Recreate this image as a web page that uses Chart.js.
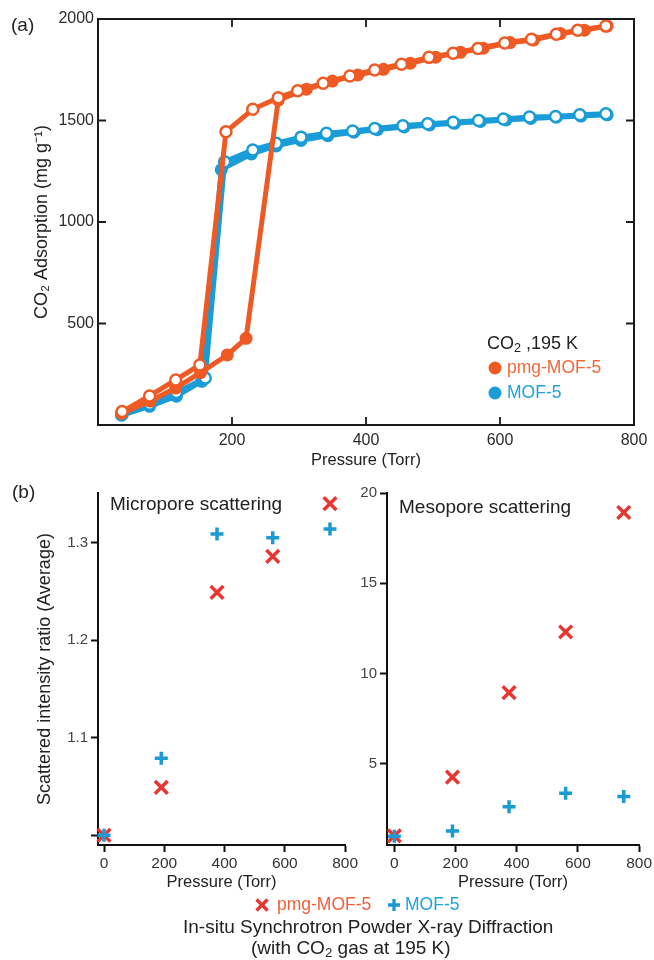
<!DOCTYPE html>
<html>
<head>
<meta charset="utf-8">
<script src="https://cdn.jsdelivr.net/npm/chart.js@4.4.1/dist/chart.umd.min.js"></script>
<style>
    body {
        margin: 0;
        width: 654px;
        height: 960px;
        position: relative;
        overflow: hidden;
        background: #fff;
        font-family: "Liberation Sans", Arial, sans-serif;
        color: #222;
    }
    canvas { position: absolute; }
    .txt {
        position: absolute;
        white-space: nowrap;
        line-height: 1;
        transform: translateY(-50%);
    }
    .dot {
        position: absolute;
        width: 13px;
        height: 13px;
        border-radius: 50%;
        transform: translate(-50%, -50%);
    }
    .icon { position: absolute; transform: translate(-50%, -50%); }
    sub { font-size: 0.7em; vertical-align: -0.25em; line-height: 0; }
</style>
</head>
<body>

<canvas id="chartA" width="654" height="475" style="left:0;top:0"></canvas>
<canvas id="chartMicro" width="360" height="420" style="left:0;top:480px"></canvas>
<canvas id="chartMeso" width="354" height="420" style="left:300px;top:480px"></canvas>

<div class="txt" style="left:11px;top:24px;font-size:19px">(a)</div>
<div class="txt" style="left:12px;top:491px;font-size:19px">(b)</div>

<div class="txt" style="left:487px;top:343px;font-size:18px">CO<sub>2</sub> ,195 K</div>
<div class="dot" style="left:495px;top:368px;background:#ef5a24"></div>
<div class="txt" style="left:507px;top:368px;font-size:17.5px;color:#f0693a">pmg-MOF-5</div>
<div class="dot" style="left:495px;top:393px;background:#1a9cd8"></div>
<div class="txt" style="left:507px;top:393px;font-size:17.5px;color:#1ea3dc">MOF-5</div>

<div class="txt" style="left:110px;top:503px;font-size:19px">Micropore scattering</div>
<div class="txt" style="left:399px;top:506px;font-size:19px">Mesopore scattering</div>

<svg class="icon" style="left:262px;top:905px" width="14" height="14" viewBox="0 0 14 14">
    <path d="M1.5 1.5 L12.5 12.5 M12.5 1.5 L1.5 12.5" stroke="#e8352f" stroke-width="3.3"/>
</svg>
<div class="txt" style="left:277px;top:905px;font-size:17.5px;color:#ef5f3a">pmg-MOF-5</div>
<svg class="icon" style="left:394px;top:905px" width="13" height="13" viewBox="0 0 13 13">
    <path d="M6.5 0.5 L6.5 12.5 M0.5 6.5 L12.5 6.5" stroke="#1b9ad3" stroke-width="3.3"/>
</svg>
<div class="txt" style="left:405px;top:905px;font-size:17.5px;color:#1ea3dc">MOF-5</div>
<div class="txt" style="left:183px;top:926px;font-size:19px">In-situ Synchrotron Powder X-ray Diffraction</div>
<div class="txt" style="left:251px;top:947px;font-size:19px">(with CO<sub>2</sub> gas at 195 K)</div>

<script>
// (a) CO2 isotherms at 195 K, pressure in Torr, uptake in mg/g
const pmgAdsP = [35, 78, 116, 153, 193, 221, 269, 311, 350, 388, 426, 466, 504, 541, 575, 615, 650, 690, 726, 760];
const pmgAdsQ = [57, 118, 182, 258, 345, 427, 1600, 1654, 1694, 1724, 1752, 1782, 1812, 1836, 1856, 1884, 1896, 1928, 1945, 1966];
const pmgDesP = [758, 716, 684, 647, 607, 567, 530, 494, 453, 413, 376, 336, 298, 269, 231, 191, 152, 116, 77, 36];
const pmgDesQ = [1965, 1945, 1925, 1900, 1882, 1855, 1831, 1811, 1777, 1749, 1719, 1683, 1647, 1612, 1555, 1445, 296, 222, 143, 66];

const mofAdsP = [35, 77, 117, 155, 184, 229, 266, 303, 343, 382, 417, 457, 495, 532, 571, 609, 646, 684, 721, 760];
const mofAdsQ = [48, 92, 142, 215, 1258, 1335, 1375, 1402, 1425, 1442, 1455, 1468, 1478, 1486, 1495, 1503, 1510, 1516, 1522, 1528];
const mofDesP = [758, 719, 683, 644, 605, 568, 530, 492, 455, 413, 380, 341, 303, 266, 231, 189, 160, 117, 77, 36];
const mofDesQ = [1533, 1528, 1520, 1517, 1507, 1500, 1491, 1484, 1474, 1461, 1448, 1437, 1418, 1388, 1355, 1297, 232, 160, 102, 52];

const xTicksA = [200, 400, 600, 800];
const yTicksA = [500, 1000, 1500, 2000];

// (b) scattered intensity ratio vs pressure
const pressureB = [0, 190, 375, 560, 750];
const microPmg = [1.0, 1.049, 1.249, 1.286, 1.340];
const microMof = [1.0, 1.079, 1.309, 1.305, 1.314];
const mesoPmg = [1.0, 4.26, 8.94, 12.3, 18.92];
const mesoMof = [0.98, 1.27, 2.62, 3.36, 3.18];

const xTicksB = [0, 200, 400, 600, 800];
const yTicksMicro = [1.0, 1.1, 1.2, 1.3];
const yTicksMeso = [5, 10, 15, 20];

const ORANGE = '#ef5a24';
const BLUE = '#1a9cd8';
const RED_X = '#e8352f';
const BLUE_PLUS = '#1b9ad3';

Chart.defaults.font.family = '"Liberation Sans", Arial, sans-serif';
Chart.defaults.color = '#222';

function toPoints(xs, ys) {
    return xs.map((x, i) => ({ x, y: ys[i] }));
}

function fixedTicks(values) {
    return (scale) => {
        scale.ticks = values.map((value) => ({ value }));
    };
}

// closed frame with ticks pointing inward, as in panel (a)
const innerFrame = {
    id: 'innerFrame',
    afterDatasetsDraw(chart) {
        const { ctx, chartArea: area, scales: { x, y } } = chart;
        ctx.save();
        ctx.strokeStyle = '#1a1a1a';
        ctx.lineWidth = 2;
        ctx.strokeRect(area.left, area.top, area.right - area.left, area.bottom - area.top);
        ctx.lineWidth = 1.8;
        ctx.beginPath();
        x.ticks.forEach((tick) => {
            const px = x.getPixelForValue(tick.value);
            ctx.moveTo(px, area.bottom);
            ctx.lineTo(px, area.bottom - 8);
            ctx.moveTo(px, area.top);
            ctx.lineTo(px, area.top + 8);
        });
        y.ticks.forEach((tick) => {
            const py = y.getPixelForValue(tick.value);
            ctx.moveTo(area.left, py);
            ctx.lineTo(area.left + 8, py);
            ctx.moveTo(area.right, py);
            ctx.lineTo(area.right - 8, py);
        });
        ctx.stroke();
        ctx.restore();
    }
};

function isothermSet(xs, ys, color, open, order) {
    return {
        data: toPoints(xs, ys),
        showLine: true,
        borderColor: color,
        borderWidth: 5,
        pointRadius: open ? 5.5 : 6.5,
        pointBorderWidth: open ? 2.5 : 0,
        pointBackgroundColor: open ? '#fff' : color,
        pointBorderColor: color,
        clip: false,
        order
    };
}

new Chart(document.getElementById('chartA'), {
    type: 'scatter',
    data: {
        datasets: [
            isothermSet(pmgDesP, pmgDesQ, ORANGE, true, 0),
            isothermSet(pmgAdsP, pmgAdsQ, ORANGE, false, 1),
            isothermSet(mofDesP, mofDesQ, BLUE, true, 2),
            isothermSet(mofAdsP, mofAdsQ, BLUE, false, 3)
        ]
    },
    options: {
        responsive: false,
        animation: false,
        layout: { padding: { top: 19, right: 20, left: 0, bottom: 0 } },
        plugins: { legend: { display: false }, tooltip: { enabled: false } },
        scales: {
            x: {
                type: 'linear',
                min: 0,
                max: 800,
                afterBuildTicks: fixedTicks(xTicksA),
                afterFit: (scale) => { scale.height = 50; },
                grid: { display: false, drawTicks: false },
                border: { display: false },
                ticks: { padding: 6, color: '#2b2b2b', font: { size: 16 }, callback: (v) => String(v) },
                title: { display: true, text: 'Pressure (Torr)', font: { size: 16.5 }, padding: { top: 0, bottom: 5 } }
            },
            y: {
                type: 'linear',
                min: 0,
                max: 2000,
                afterBuildTicks: fixedTicks(yTicksA),
                afterFit: (scale) => { scale.width = 98; },
                grid: { display: false, drawTicks: false },
                border: { display: false },
                ticks: { padding: 4, color: '#2b2b2b', font: { size: 16 }, callback: (v) => String(v) },
                title: { display: true, text: 'CO₂ Adsorption (mg g⁻¹)', font: { size: 18 }, padding: { top: 31, bottom: 0 } }
            }
        }
    },
    plugins: [innerFrame]
});

function scatteringSets(pmgValues, mofValues) {
    return [
        {
            data: toPoints(pressureB, mofValues),
            pointStyle: 'cross',
            pointRadius: 6.5,
            pointBorderWidth: 3.5,
            borderColor: BLUE_PLUS,
            clip: false,
            order: 0
        },
        {
            data: toPoints(pressureB, pmgValues),
            pointStyle: 'crossRot',
            pointRadius: 9,
            pointBorderWidth: 3.5,
            borderColor: RED_X,
            clip: false,
            order: 1
        }
    ];
}

function scatteringOptions(xMin, yMin, yMax, yTicks, yWidth, yFormat, yTitle) {
    const axisLine = { display: true, color: '#111', width: 2 };
    const tickGrid = { display: true, drawOnChartArea: false, drawTicks: true, tickLength: 7, tickWidth: 2, tickColor: '#111' };
    return {
        responsive: false,
        animation: false,
        layout: { padding: { top: 13, right: 14, left: 0, bottom: 0 } },
        plugins: { legend: { display: false }, tooltip: { enabled: false } },
        scales: {
            x: {
                type: 'linear',
                min: xMin,
                max: 800,
                afterBuildTicks: fixedTicks(xTicksB),
                afterFit: (scale) => { scale.height = 55; },
                grid: tickGrid,
                border: axisLine,
                ticks: { padding: 2, color: '#333', font: { size: 15.5 }, callback: (v) => String(v) },
                title: { display: true, text: 'Pressure (Torr)', font: { size: 16.5 }, padding: { top: 0, bottom: 8 } }
            },
            y: {
                type: 'linear',
                min: yMin,
                max: yMax,
                afterBuildTicks: fixedTicks(yTicks),
                afterFit: (scale) => { scale.width = yWidth; },
                grid: tickGrid,
                border: axisLine,
                ticks: { padding: 3, color: '#444', font: { size: 15 }, callback: yFormat },
                title: { display: !!yTitle, text: yTitle, font: { size: 18 }, padding: { top: 34, bottom: 0 } }
            }
        }
    };
}

new Chart(document.getElementById('chartMicro'), {
    type: 'scatter',
    data: { datasets: scatteringSets(microPmg, microMof) },
    options: scatteringOptions(-20, 0.99, 1.351, yTicksMicro, 98,
        (v) => (v === 1 ? '' : v.toFixed(1)), 'Scattered intensity ratio (Average)')
});

new Chart(document.getElementById('chartMeso'), {
    type: 'scatter',
    data: { datasets: scatteringSets(mesoPmg, mesoMof) },
    options: scatteringOptions(-24, 0.5, 20, yTicksMeso, 87, (v) => String(v), '')
});
</script>
</body>
</html>
